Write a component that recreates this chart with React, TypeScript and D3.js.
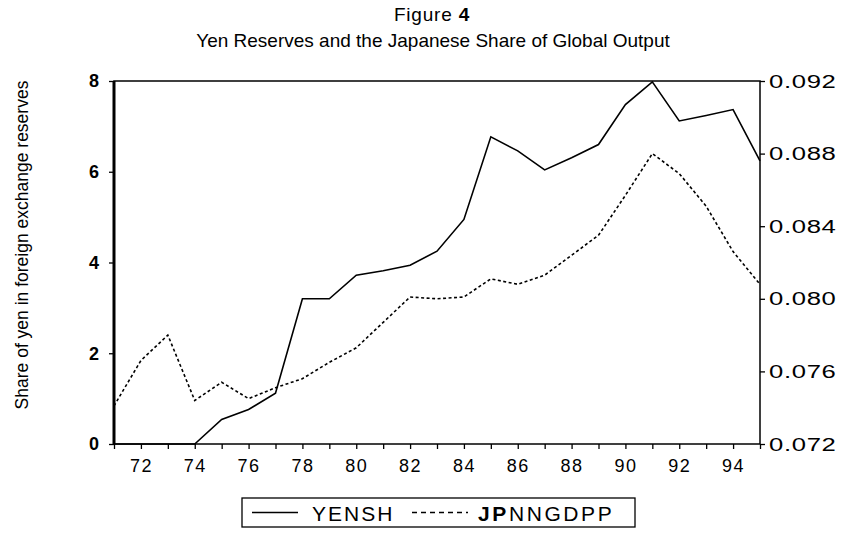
import { useEffect, useRef } from 'react'
import * as d3 from 'd3'

// Figure 4 — yen share of reserves (left axis) vs Japan's share of world output (right axis)
const YEARS = [1971, 1972, 1973, 1974, 1975, 1976, 1977, 1978, 1979, 1980, 1981, 1982, 1983,
  1984, 1985, 1986, 1987, 1988, 1989, 1990, 1991, 1992, 1993, 1994, 1995]
const YENSH = [0, 0, 0, 0, 0.54, 0.76, 1.12, 3.2, 3.2, 3.72, 3.82, 3.94, 4.25,
  4.95, 6.77, 6.46, 6.04, 6.31, 6.6, 7.48, 7.98, 7.12, 7.24, 7.37, 6.24]
const JPNNGDPP = [0.0741, 0.0766, 0.078, 0.0744, 0.0754, 0.0745, 0.0751, 0.0756, 0.0765, 0.0773,
  0.0787, 0.0801, 0.08, 0.0801, 0.0811, 0.0808, 0.0813, 0.0824, 0.0835, 0.0857, 0.088,
  0.0869, 0.0851, 0.0826, 0.0808]
const LEFT_TICKS = [0, 2, 4, 6, 8]
const RIGHT_TICKS = [0.072, 0.076, 0.08, 0.084, 0.088, 0.092]

const TITLE = 'Figure'
const TITLE_NUM = '4'
const SUBTITLE = 'Yen Reserves and the Japanese Share of Global Output'
const Y_LABEL = 'Share of yen in foreign exchange reserves'

export default function App() {
  const ref = useRef<SVGSVGElement | null>(null)

  useEffect(() => {
    const svg = d3.select(ref.current)
    svg.selectAll('*').remove()
    const W = 846, H = 534
    const M = { top: 81, right: 86, bottom: 90, left: 114 }
    const iw = W - M.left - M.right
    const ih = H - M.top - M.bottom
    const font = '"Liberation Sans", Arial, sans-serif'

    svg.append('rect').attr('width', W).attr('height', H).attr('fill', '#fff')

    const x = d3.scaleLinear().domain([1971, 1995]).range([0, iw])
    const yL = d3.scaleLinear().domain([0, 8]).range([ih, 0])
    const yR = d3.scaleLinear().domain([0.072, 0.092]).range([ih, 0])

    const t = svg.append('text').attr('x', 432).attr('y', 21).attr('text-anchor', 'middle')
      .attr('font-family', font).attr('font-size', 19).attr('letter-spacing', 0.8)
    t.append('tspan').text(TITLE + ' ')
    t.append('tspan').attr('font-weight', 'bold').text(TITLE_NUM)
    svg.append('text').attr('x', 433).attr('y', 47).attr('text-anchor', 'middle')
      .attr('font-family', font).attr('font-size', 19).text(SUBTITLE)

    svg.append('text')
      .attr('transform', `translate(28,245) rotate(-90)`)
      .attr('text-anchor', 'middle').attr('font-family', font).attr('font-size', 17.5)
      .text(Y_LABEL)

    const g = svg.append('g').attr('transform', `translate(${M.left},${M.top})`)

    // frame
    g.append('rect').attr('width', iw).attr('height', ih)
      .attr('fill', 'none').attr('stroke', '#000').attr('stroke-width', 1.5)
    g.append('line').attr('x1', 0).attr('x2', 0).attr('y1', 0).attr('y2', ih)
      .attr('stroke', '#000').attr('stroke-width', 3)

    const styleAxis = (s: any) => {
      s.select('.domain').remove()
      s.selectAll('line').attr('stroke', '#000').attr('stroke-width', 1.3)
      s.selectAll('text').attr('fill', '#000').attr('font-family', font)
    }

    g.append('g').attr('transform', `translate(0,${ih})`)
      .call(d3.axisBottom(x).tickValues(YEARS).tickSize(5).tickPadding(9)
        .tickFormat((d: any) => (d % 2 === 0 ? String(d).slice(2) : '')))
      .call(styleAxis)
      .call((s: any) => s.selectAll('text').attr('font-size', 18).attr('dy', '0.75em')
        .attr('letter-spacing', 1.5))

    g.append('g')
      .call(d3.axisLeft(yL).tickValues(LEFT_TICKS).tickSize(5).tickPadding(10)
        .tickFormat(d3.format('d')))
      .call(styleAxis)
      .call((s: any) => s.selectAll('text').attr('font-size', 18).attr('font-weight', 'bold'))

    // the scanned right-hand labels are very wide: stretch them horizontally
    const sx = 1.35
    g.append('g').attr('transform', `translate(${iw},0)`)
      .call(d3.axisRight(yR).tickValues(RIGHT_TICKS).tickSize(5).tickPadding(4)
        .tickFormat(d3.format('.3f')))
      .call(styleAxis)
      .call((s: any) => s.selectAll('text').attr('font-size', 19).attr('x', 9 / sx)
        .attr('transform', `scale(${sx},1)`).attr('letter-spacing', 0.5))

    const lineL = d3.line<number>().x((d, i) => x(YEARS[i])).y(d => yL(d))
    const lineR = d3.line<number>().x((d, i) => x(YEARS[i])).y(d => yR(d))

    g.append('path').datum(JPNNGDPP).attr('d', lineR).attr('fill', 'none')
      .attr('stroke', '#000').attr('stroke-width', 1.6).attr('stroke-dasharray', '3,2.5')
    g.append('path').datum(YENSH).attr('d', lineL).attr('fill', 'none')
      .attr('stroke', '#000').attr('stroke-width', 1.6)

    // legend
    const lg = svg.append('g').attr('transform', 'translate(242,498)')
    lg.append('rect').attr('width', 393).attr('height', 29)
      .attr('fill', 'none').attr('stroke', '#000').attr('stroke-width', 1.3)
    lg.append('line').attr('x1', 10).attr('x2', 56).attr('y1', 14.5).attr('y2', 14.5)
      .attr('stroke', '#000').attr('stroke-width', 1.3)
    lg.append('text').attr('x', 70).attr('y', 22.5).attr('font-family', font)
      .attr('font-size', 21).attr('letter-spacing', 2).text('YENSH')
    lg.append('line').attr('x1', 170).attr('x2', 226).attr('y1', 14.5).attr('y2', 14.5)
      .attr('stroke', '#000').attr('stroke-width', 1.3).attr('stroke-dasharray', '5,4')
    const t2 = lg.append('text').attr('x', 236).attr('y', 22.5).attr('font-family', font)
      .attr('font-size', 21).attr('letter-spacing', 2.6)
    t2.append('tspan').attr('font-weight', 'bold').text('JP')
    t2.append('tspan').text('NNGDPP')
  }, [])

  return (
    <svg ref={ref} width={846} height={534}
      style={{ position: 'absolute', left: 0, top: 0, display: 'block' }} />
  )
}
